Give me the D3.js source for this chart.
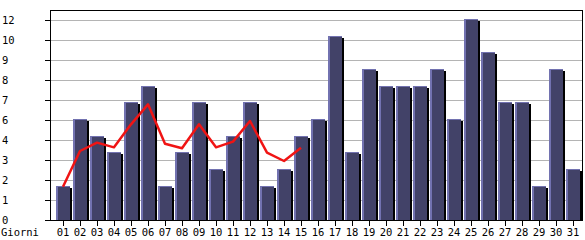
<!DOCTYPE html>
<html><head><meta charset="utf-8">
<script src="https://cdn.jsdelivr.net/npm/d3@7"></script>
<style>
html,body{margin:0;padding:0;background:#fff;}
text{font-family:"DejaVu Sans Mono",monospace;font-size:10.5px;fill:#000;}
</style></head>
<body>
<svg id="c" width="585" height="240"></svg>
<script>
const days = ["01","02","03","04","05","06","07","08","09","10","11","12","13","14","15","16","17","18","19","20","21","22","23","24","25","26","27","28","29","30","31"];
const visits = [2,6,5,4,7,8,2,4,7,3,5,7,2,3,5,6,11,4,9,8,8,8,9,6,12,10,7,7,2,9,3];
const trendDays = ["01","02","03","04","05","06","07","08","09","10","11","12","13","14","15"];
const trend = [2,4.14,4.64,4.36,5.74,6.94,4.57,4.3,5.74,4.36,4.7,5.94,4.04,3.54,4.34];
const yTickLabels = ["0","1","2","3","4","6","7","8","9","10","12"];
const xTitle = "Giorni";

const svg = d3.select("#c");
const L = 50, R = 582, T = 10, B = 220;
const x = d3.scaleBand().domain(days).range([54, 581]).padding(0);
const y = d3.scaleLinear().domain([0, 12]).range([B, 20]);
const cx = d => x(d) + x.bandwidth() / 2;
const yTicks = yTickLabels.map((_, i) => i * 1.2);

// gridlines
svg.append("g").selectAll("line").data(yTicks.slice(1)).join("line")
  .attr("x1", L).attr("x2", R)
  .attr("y1", d => Math.round(y(d)) + 0.5).attr("y2", d => Math.round(y(d)) + 0.5)
  .attr("stroke", "#b4b4b4").attr("stroke-width", 1);

// bars
const bars = svg.append("g").attr("shape-rendering", "crispEdges");
const bw = 14;
days.forEach((d, i) => {
  const v = visits[i];
  const top = Math.round(y(v));
  const c = Math.round(cx(d));
  // shadow
  bars.append("rect").attr("x", c - 5).attr("y", top + 1).attr("width", bw).attr("height", B - top - 1).attr("fill", "#000");
  // face
  bars.append("rect").attr("x", c - 7).attr("y", top - 1).attr("width", bw).attr("height", B - top + 1).attr("fill", "#424268");
  // highlights
  bars.append("rect").attr("x", c - 7).attr("y", top - 1).attr("width", 2).attr("height", B - top + 1).attr("fill", "#7272b0");
  bars.append("rect").attr("x", c - 7).attr("y", top - 1).attr("width", bw).attr("height", 1).attr("fill", "#7272b0");
});

// frame
const fr = svg.append("g").attr("shape-rendering", "crispEdges").attr("stroke", "#000").attr("fill", "none");
fr.append("path").attr("d", `M${L+0.5},${B+0.5}V${T+0.5}H${R+0.5}V${B+0.5}`);
fr.append("line").attr("x1", L).attr("x2", R + 1).attr("y1", B + 0.5).attr("y2", B + 0.5);

// y ticks and labels
const yg = svg.append("g");
yg.selectAll("line").data(yTicks).join("line")
  .attr("shape-rendering", "crispEdges")
  .attr("x1", 45).attr("x2", L)
  .attr("y1", d => Math.round(y(d)) + 0.5).attr("y2", d => Math.round(y(d)) + 0.5)
  .attr("stroke", "#000");
yg.selectAll("text").data(yTicks).join("text")
  .attr("x", 2).attr("y", d => y(d)).attr("dy", "0.36em")
  .text((d, i) => yTickLabels[i]);

// x ticks and labels
const xg = svg.append("g");
xg.selectAll("line").data(days).join("line")
  .attr("shape-rendering", "crispEdges")
  .attr("x1", d => Math.round(cx(d)) + 0.5).attr("x2", d => Math.round(cx(d)) + 0.5)
  .attr("y1", B).attr("y2", B + 6)
  .attr("stroke", "#000");
xg.selectAll("text").data(days).join("text")
  .attr("x", d => cx(d) + 0.5).attr("y", 236).attr("text-anchor", "middle")
  .text(d => d);
svg.append("text").attr("x", 1).attr("y", 236).text(xTitle);

// trend line
svg.append("path").datum(trend)
  .attr("fill", "none").attr("stroke", "#f01414").attr("stroke-width", 2.5)
  .attr("stroke-linejoin", "round")
  .attr("d", d3.line().x((d, i) => cx(trendDays[i]) + 0.5).y(d => y(d)));
</script>
</body></html>
